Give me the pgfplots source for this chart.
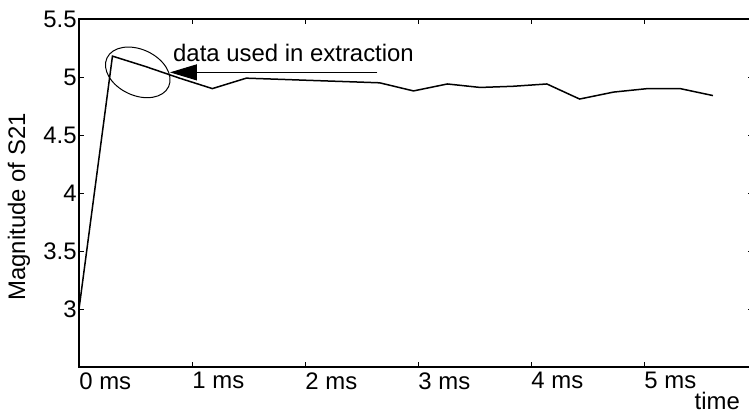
\documentclass[border=0pt]{standalone}
\usepackage{pgfplots}
\pgfplotsset{compat=1.18}
\usepackage{fontspec}
\setmainfont{Liberation Sans}
\usetikzlibrary{arrows.meta,calc}

\begin{document}
\fontsize{12}{14}\selectfont
\begin{tikzpicture}
\begin{axis}[
  scale only axis, width=337bp, height=174bp,
  xmin=0, xmax=5.965, ymin=2.5, ymax=5.5,
  xtick={0,1,2,3,4,5}, xticklabels={0 ms,1 ms,2 ms,3 ms,4 ms,5 ms},
  ytick={3,3.5,4,4.5,5,5.5},
  /pgf/number format/assume math mode=true,
  yticklabel style={anchor=east, inner sep=0pt, xshift=-1bp},
  xticklabel style={anchor=north west, inner sep=0pt, yshift=-2.5bp},
  axis line style={line width=1bp},
  major tick length=2.5bp,
  every tick/.style={black, line width=0.5bp},
  ylabel={Magnitude of S21},
  ylabel style={at={(axis description cs:-0.089,0.46)}, anchor=center},
  xlabel={time},
  xlabel style={at={(axis description cs:0.981,-0.072)}, anchor=north east, inner sep=0pt},
  clip=false,
]
\addplot[black, line width=0.75bp] coordinates {
  (0,3.00) (0.296,5.18) (0.59,5.09) (0.89,4.99) (1.18,4.90) (1.48,4.99)
  (1.78,4.98) (2.07,4.97) (2.37,4.96) (2.66,4.95) (2.96,4.88) (3.26,4.94)
  (3.55,4.91) (3.84,4.92) (4.14,4.94) (4.43,4.81) (4.73,4.87) (5.03,4.90)
  (5.32,4.90) (5.61,4.84)
};
% annotation
\coordinate (ec) at (axis cs:0.52,5.04);
\draw[line width=0.5bp, -{Triangle[length=13.5bp,width=8bp]}] (axis cs:2.64,5.04) -- (axis cs:0.805,5.04);
\node[anchor=base west, inner sep=0pt] at (axis cs:0.83,5.13) {data used in extraction};
\coordinate (sw) at (axis cs:0,2.5);
\coordinate (ne) at (axis cs:5.929,5.5);
\end{axis}
\draw[line width=0.5bp, shift={(ec)}, rotate=-25] (0,0) ellipse (17bp and 11.5bp);
\pgfresetboundingbox
\useasboundingbox ($(sw)+(-39.5bp,-23.5bp)$) rectangle ($(ne)+(0,9.5bp)$);
\end{tikzpicture}
\end{document}
